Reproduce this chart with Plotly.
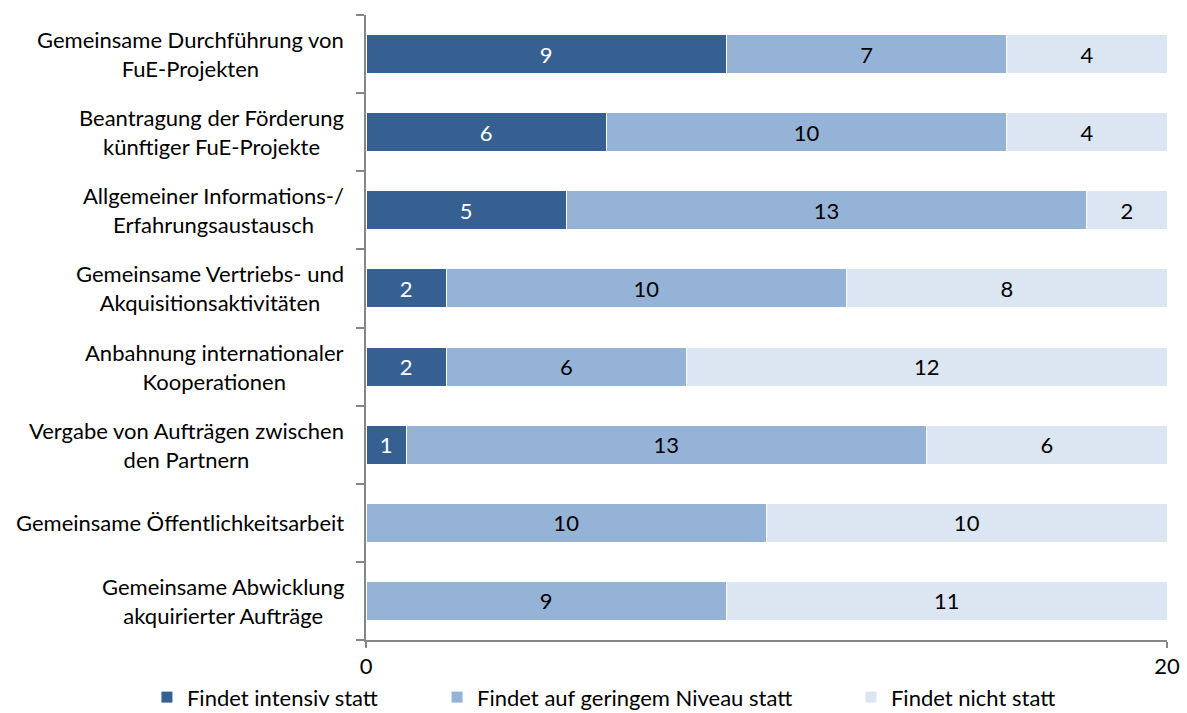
import plotly.graph_objects as go

categories = [
    "Gemeinsame Durchführung von<br>FuE-Projekten",
    "Beantragung der Förderung<br>künftiger FuE-Projekte",
    "Allgemeiner Informations-/<br>Erfahrungsaustausch",
    "Gemeinsame Vertriebs- und<br>Akquisitionsaktivitäten",
    "Anbahnung internationaler<br>Kooperationen",
    "Vergabe von Aufträgen zwischen<br>den Partnern",
    "Gemeinsame Öffentlichkeitsarbeit",
    "Gemeinsame Abwicklung<br>akquirierter Aufträge",
]
intensiv = [9, 6, 5, 2, 2, 1, 0, 0]
gering = [7, 10, 13, 10, 6, 13, 10, 9]
nicht = [4, 4, 2, 8, 12, 6, 10, 11]
series_names = ["Findet intensiv statt", "Findet auf geringem Niveau statt", "Findet nicht statt"]
colors = ["#376092", "#95B3D7", "#DCE6F2"]
text_colors = ["white", "black", "black"]
ids = list(range(len(categories)))

FONT = "Lato"
FS = 22

fig = go.Figure()
legends = ["legend", "legend2", "legend3"]
for vals, name, col, tcol, lg in zip([intensiv, gering, nicht], series_names, colors, text_colors, legends):
    fig.add_trace(go.Bar(
        y=ids, x=vals, orientation="h", name=name,
        marker=dict(color=col, line=dict(color="white", width=1)),
        text=[str(v) if v else "" for v in vals],
        textposition="inside", insidetextanchor="middle", textangle=0,
        constraintext="none",
        textfont=dict(color=tcol, size=FS, family=FONT),
        legend=lg, showlegend=True, hoverinfo="x+name",
    ))

for i, c in zip(ids, categories):
    fig.add_annotation(x=0, y=i, xref="paper", yref="y", text=c, showarrow=False,
                       xanchor="right", yanchor="middle", align="center", xshift=-20,
                       font=dict(size=FS, color="black", family=FONT))

leg_common = dict(orientation="h", yanchor="middle", xanchor="left", xref="container", yref="container",
                  y=0.022, font=dict(size=FS, color="black", family=FONT), bgcolor="rgba(0,0,0,0)")
fig.update_layout(
    width=1187, height=713,
    showlegend=True,
    margin=dict(l=366, r=20, t=15, b=73),
    plot_bgcolor="white", paper_bgcolor="white",
    barmode="stack", bargap=0.5,
    font=dict(family=FONT, size=FS, color="black"),
    legend=dict(x=0.1238, **leg_common),
    legend2=dict(x=0.3682, **leg_common),
    legend3=dict(x=0.7169, **leg_common),
    xaxis=dict(range=[0, 20], tickvals=[0, 20], showgrid=True, gridcolor="#868686", gridwidth=1.5,
               showline=True, linecolor="#868686", linewidth=2, ticks="outside", ticklen=6,
               tickcolor="#868686", tickwidth=2, zeroline=False, automargin=False,
               tickfont=dict(size=FS, color="black", family=FONT)),
    yaxis=dict(type="linear", range=[7.5, -0.5], tickvals=[-0.5 + k for k in range(9)],
               showticklabels=False, showline=True, linecolor="#868686", linewidth=2,
               ticks="outside", ticklen=8, tickcolor="#868686", tickwidth=2,
               showgrid=False, zeroline=False, automargin=False),
)
fig.write_html("out.html", config={"displayModeBar": False},
               post_script="document.body.style.margin='0';document.body.style.overflow='hidden';")
